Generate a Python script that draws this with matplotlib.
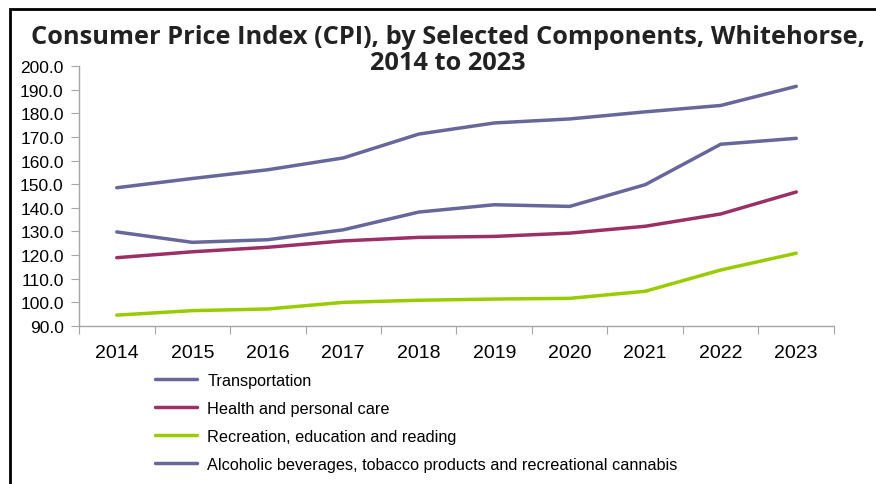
import matplotlib
matplotlib.use("Agg")
import matplotlib.pyplot as plt
from matplotlib.patches import Rectangle

years = ["2014", "2015", "2016", "2017", "2018", "2019", "2020", "2021", "2022", "2023"]
transportation = [129.8, 125.4, 126.5, 130.7, 138.2, 141.3, 140.6, 149.8, 166.9, 169.4]
health = [118.9, 121.4, 123.3, 126.0, 127.5, 127.9, 129.3, 132.2, 137.4, 146.7]
recreation = [94.6, 96.5, 97.2, 100.0, 100.9, 101.4, 101.7, 104.7, 113.7, 120.8]
alcohol = [148.5, 152.4, 156.1, 161.1, 171.2, 175.9, 177.6, 180.6, 183.3, 191.4]
labels = ["Transportation", "Health and personal care",
          "Recreation, education and reading",
          "Alcoholic beverages, tobacco products and recreational cannabis"]
yticks = [90, 100, 110, 120, 130, 140, 150, 160, 170, 180, 190, 200]

c_purple = "#67679C"
c_mag = "#9C2F66"
c_green = "#99CC00"

fig = plt.figure(figsize=(8.76, 4.85), dpi=100)
ax = fig.add_axes([79/876, 1-327/485, (834-79)/876, (327-67)/485])

x = list(range(len(years)))
lw = 2.5
h1, = ax.plot(x, transportation, color=c_purple, lw=lw, solid_capstyle="round")
h2, = ax.plot(x, health, color=c_mag, lw=lw, solid_capstyle="round")
h3, = ax.plot(x, recreation, color=c_green, lw=lw, solid_capstyle="round")
h4, = ax.plot(x, alcohol, color=c_purple, lw=lw, solid_capstyle="round")

ax.set_xlim(-0.5, len(years) - 0.5)
ax.set_ylim(90, 200)
ax.set_yticks(yticks)
ax.set_yticklabels([f"{v:.1f}" for v in yticks], fontfamily="Liberation Sans", fontsize=12.5)
ax.set_xticks([i - 0.5 for i in range(len(years) + 1)])
ax.set_xticklabels([])
ax.set_xticks(x, minor=True)
ax.set_xticklabels(years, minor=True, fontfamily="Liberation Sans", fontsize=14)
ax.tick_params(axis="x", which="minor", length=0, pad=13)
ax.tick_params(axis="x", which="major", length=6, color="#A6A6A6", direction="out")
ax.tick_params(axis="y", length=6, color="#A6A6A6", direction="out", pad=5)
for s in ["top", "right"]:
    ax.spines[s].set_visible(False)
for s in ["left", "bottom"]:
    ax.spines[s].set_color("#A6A6A6")
    ax.spines[s].set_linewidth(1.0)

fig.text(448/876, 1-37/485, "Consumer Price Index (CPI), by Selected Components, Whitehorse,",
         ha="center", va="center", fontsize=18.3, fontweight="bold", fontfamily="Open Sans", color="#222222")
fig.text(448/876, 1-64/485, "2014 to 2023",
         ha="center", va="center", fontsize=18.3, fontweight="bold", fontfamily="Open Sans", color="#222222")

leg = fig.legend([h1, h2, h3, h4], labels, loc="upper left",
                 bbox_to_anchor=(155/876, 1-374/485), frameon=False,
                 prop={"family": "Liberation Sans", "size": 11.7},
                 handlelength=2.6, handletextpad=0.62, labelspacing=0.8,
                 borderaxespad=0, borderpad=0)

fig.patches.append(Rectangle((9.5/876, -0.2), 1.2, 1.2 - 10/485,
                             transform=fig.transFigure, fill=False, ec="black", lw=2, clip_on=False))

fig.savefig("out.png", dpi=100)
